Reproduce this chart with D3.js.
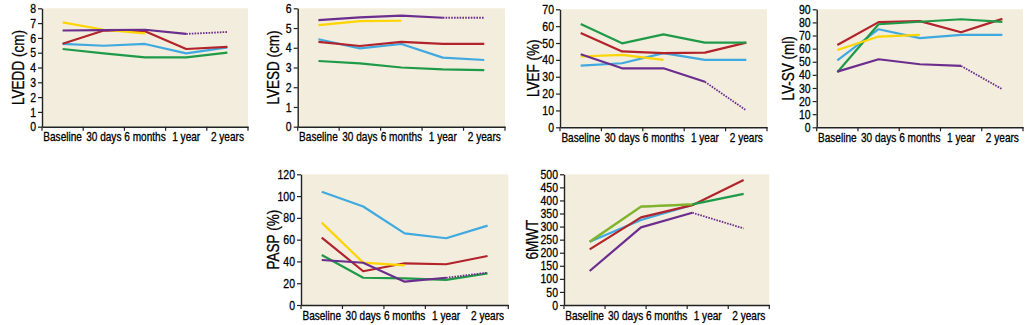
<!DOCTYPE html>
<html>
<head>
<meta charset="utf-8">
<script src="https://cdn.jsdelivr.net/npm/d3@7"></script>
<style>
  html, body { margin: 0; padding: 0; background: #ffffff; }
  svg { display: block; }
  text { font-family: "Liberation Sans", Arial, sans-serif; }
</style>
</head>
<body>
<svg id="chart" width="1033" height="325"></svg>
<script>
// Follow-up visits shown on every x axis
const timepoints = ["Baseline", "30 days", "6 months", "1 year", "2 years"];
// The six-minute walk test was recorded at four visits only
const walkVisits = ["Baseline", "6 months", "1 year", "2 years"];

// Patients, one line each (order matches the rows of every value table)
const patients = ["Patient 1", "Patient 2", "Patient 3", "Patient 4", "Patient 5"];

// Rows: patients; columns: visits (null = not measured)
const lveddValues = [
  [7.05, 6.55, 6.3, null, null],
  [5.6, 5.47, 5.59, 4.95, 5.36],
  [5.6, 6.5, 6.45, 5.25, 5.4],
  [5.25, 4.95, 4.68, 4.68, 5.0],
  [6.5, 6.52, 6.55, 6.27, 6.4]
];
const lvesdValues = [
  [5.15, 5.35, 5.37, null, null],
  [4.43, 3.97, 4.19, 3.5, 3.38],
  [4.3, 4.09, 4.3, 4.2, 4.2],
  [3.33, 3.21, 3.0, 2.9, 2.87],
  [5.4, 5.54, 5.63, 5.52, 5.52]
];
const lvefValues = [
  [42, 43, 40, null, null],
  [36.6, 38, 44, 40, 40],
  [56, 45, 44, 44.3, 50.2],
  [61.3, 49.8, 55.1, 50.2, 50.2],
  [43.3, 35, 35, 27, 10]
];
const lvsvValues = [
  [59, 69.2, 70.5, null, null],
  [51, 74.8, 68, 70.5, 70.5],
  [62.8, 80.2, 81, 72.5, 82.7],
  [42, 78.6, 80.5, 82.4, 80.4],
  [42.5, 51.9, 48.1, 46.8, 29]
];
const paspValues = [
  [75.6, 38.9, 36.4, null, null],
  [104, 90.4, 65.8, 61.3, 72.9],
  [61.9, 31, 38.3, 37.4, 45],
  [45.9, 25, 24.5, 23, 29],
  [41.3, 38.8, 21.4, 25, 29.7]
];
const walkValues = [
  [242, 376, 385, null],
  [242, 325, 383, null],
  [213, 335, 382, 478],
  [242, 376, 385, 425],
  [130, 297, 353, 293]
];

// Line colours per patient, and the drawing order (last is on top)
const lineColors = ["#ffd400", "#3fa9e0", "#b3232b", "#1e9a48", "#6b2d8e"];
const drawOrder = [1, 2, 3, 0, 4];
// Patient 5's last interval is drawn dotted
const dottedLastInterval = [false, false, false, false, true];

const panels = [
  { title: "LVEDD (cm)", values: lveddValues, visits: timepoints, yMax: 8, step: 1,
    left: 42, right: 248, top: 8.3, bottom: 126.7, titleX: 17.5 },
  { title: "LVESD (cm)", values: lvesdValues, visits: timepoints, yMax: 6, step: 1,
    left: 297.7, right: 505, top: 8.3, bottom: 126.7, titleX: 273 },
  { title: "LVEF (%)", values: lvefValues, visits: timepoints, yMax: 70, step: 10,
    left: 560, right: 767, top: 9.3, bottom: 127.3, titleX: 532.5 },
  { title: "LV-SV (ml)", values: lvsvValues, visits: timepoints, yMax: 90, step: 10,
    left: 816.7, right: 1023, top: 9.3, bottom: 127.3, titleX: 788 },
  { title: "PASP (%)", values: paspValues, visits: timepoints, yMax: 120, step: 20,
    left: 301, right: 508.3, top: 174.3, bottom: 305, titleX: 273.3 },
  { title: "6MWT", values: walkValues, visits: walkVisits, yMax: 500, step: 50,
    left: 564, right: 769.3, top: 174.3, bottom: 305, titleX: 532, yellowBlend: 0.45 }
];

const svg = d3.select("#chart");
const axisColor = "#222";
const NARROW = 0.82; // horizontal squeeze giving a condensed typeface

// Squeeze text horizontally about its own anchor point
function condense(sel) {
  sel.each(function () {
    const t = d3.select(this);
    const x = +(t.attr("x") || 0);
    t.attr("x", x / NARROW);
    const tr = t.attr("transform") || "";
    t.attr("transform", (tr + ` scale(${NARROW},1)`).trim());
  });
}

panels.forEach(p => {
  const g = svg.append("g");

  const xAxisBand = d3.scaleBand().domain(timepoints).range([p.left, p.right]);
  const xData = d3.scaleBand().domain(p.visits).range([p.left, p.right]);
  const y = d3.scaleLinear().domain([0, p.yMax]).range([p.bottom, p.top]);

  // plot background
  g.append("rect")
    .attr("x", p.left).attr("y", p.top)
    .attr("width", p.right - p.left).attr("height", p.bottom - p.top)
    .attr("fill", "#f2eddc");

  // lines
  const line = d3.line()
    .defined(d => d.v != null)
    .x(d => xData(d.t) + xData.bandwidth() / 2)
    .y(d => y(d.v));

  drawOrder.forEach(i => {
    const pts = p.visits.map((t, k) => ({ t, v: p.values[i][k] }));
    const last = pts.length - 1;
    const dotted = dottedLastInterval[i];
    const solidPts = dotted ? pts.slice(0, last) : pts;
    const opacity = (i === 0 && p.yellowBlend) ? p.yellowBlend : 1;
    g.append("path")
      .attr("d", line(solidPts))
      .attr("fill", "none")
      .attr("stroke", lineColors[i])
      .attr("stroke-opacity", opacity)
      .attr("stroke-width", 2.2)
      .attr("stroke-linejoin", "round");
    if (dotted) {
      g.append("path")
        .attr("d", line(pts.slice(last - 1)))
        .attr("fill", "none")
        .attr("stroke", lineColors[i])
        .attr("stroke-width", 1.8)
        .attr("stroke-dasharray", "1.6,1.2");
    }
  });

  // y axis
  const yAxis = d3.axisLeft(y)
    .tickValues(d3.range(0, p.yMax + p.step / 2, p.step))
    .tickFormat(d3.format("d"))
    .tickSize(4).tickPadding(2).tickSizeOuter(0);
  const ya = g.append("g").attr("transform", `translate(${p.left},0)`).call(yAxis);
  ya.select(".domain").attr("stroke", axisColor).attr("stroke-width", 1.4);
  ya.selectAll(".tick line").attr("stroke", axisColor).attr("stroke-width", 1.2);
  ya.selectAll(".tick text")
    .attr("fill", "#000").attr("stroke", "#000").attr("stroke-width", 0.3)
    .attr("font-size", 12.8).call(condense);

  // x axis: labels centred in bands, ticks on band edges
  const xAxis = d3.axisBottom(xAxisBand).tickSize(0).tickPadding(6).tickSizeOuter(0);
  const xa = g.append("g").attr("transform", `translate(0,${p.bottom})`).call(xAxis);
  xa.select(".domain").attr("stroke", axisColor).attr("stroke-width", 1.4);
  xa.selectAll(".tick text")
    .attr("fill", "#000").attr("stroke", "#000").attr("stroke-width", 0.3)
    .attr("font-size", 12.3).call(condense);
  const edges = timepoints.map(t => xAxisBand(t)).concat([xAxisBand.range()[1]]);
  xa.selectAll(".edge").data(edges).enter().append("line")
    .attr("class", "edge")
    .attr("x1", d => d).attr("x2", d => d)
    .attr("y1", 0).attr("y2", 4)
    .attr("stroke", axisColor).attr("stroke-width", 1.2);

  // y title
  g.append("text")
    .attr("transform", `translate(${p.titleX},${(p.top + p.bottom) / 2}) rotate(-90) scale(${NARROW},1)`)
    .attr("text-anchor", "middle")
    .attr("dominant-baseline", "central")
    .attr("font-size", 16.5)
    .attr("fill", "#000").attr("stroke", "#000").attr("stroke-width", 0.3)
    .text(p.title);
});
</script>
</body>
</html>
